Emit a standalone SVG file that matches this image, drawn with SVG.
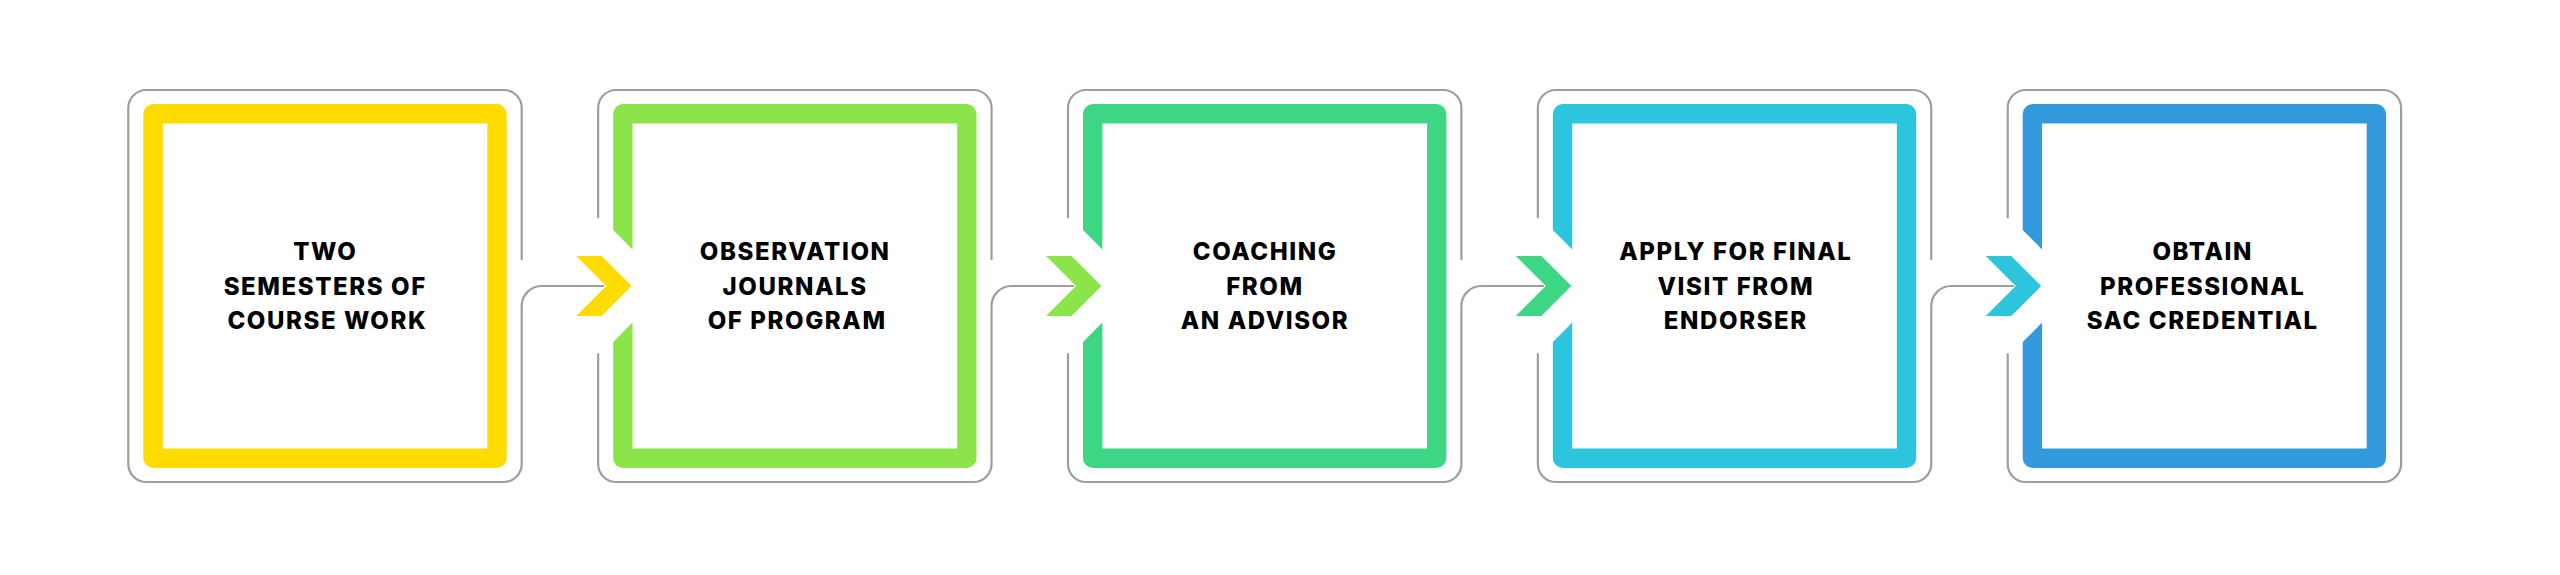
<svg xmlns="http://www.w3.org/2000/svg" width="2560" height="575" viewBox="0 0 2560 575">
<style>
.outline{fill:none;stroke:#9e9e9e;stroke-width:2.2}
.frame{fill-rule:evenodd}
.notch{fill:#ffffff}
.lbl{font-family:Inter,"Noto Sans","Liberation Sans",sans-serif;font-weight:800;font-size:24px;letter-spacing:1.6px;fill:#000;text-anchor:middle}
.conn{fill:none;stroke:#9e9e9e;stroke-width:2.2}
.c1{fill:#FFDC00}.c2{fill:#8BE54A}.c3{fill:#3CD684}.c4{fill:#2DC4DE}.c5{fill:#3399DD}
</style>
<defs>
<path id="framePath" d="M10,104 H353.4 A10,10 0 0 1 363.4,114 V458 A10,10 0 0 1 353.4,468 H10 A10,10 0 0 1 0,458 V114 A10,10 0 0 1 10,104 Z M19.4,123.4 V448.6 H344 V123.4 Z"/>
<polygon id="notchPoly" points="-3,227 21.4,251.4 21.4,320.6 -3,345"/>
<path id="outlineMid" d="M-15,218.3 V108 A18,18 0 0 1 3,90 H360.4 A18,18 0 0 1 378.4,108 V260 M378.4,306 V464 A18,18 0 0 1 360.4,482 H3 A18,18 0 0 1 -15,464 V353.3"/>
</defs>
<rect width="2560" height="575" fill="#ffffff"/>

<g id="node1" transform="translate(143.3,0)">
<path class="outline" d="M378.4,260 V108 A18,18 0 0 0 360.4,90 H3 A18,18 0 0 0 -15,108 V464 A18,18 0 0 0 3,482 H360.4 A18,18 0 0 0 378.4,464 V306"/>
<use href="#framePath" class="frame c1"/>
<text class="lbl" x="182" y="260">TWO</text>
<text class="lbl" x="182" y="294.5">SEMESTERS OF</text>
<text class="lbl" x="184" y="329">COURSE WORK</text>
</g>

<g id="node2" transform="translate(613.15,0)">
<use href="#outlineMid" class="outline"/>
<use href="#framePath" class="frame c2"/>
<use href="#notchPoly" class="notch"/>
<text class="lbl" x="182" y="260">OBSERVATION</text>
<text class="lbl" x="182" y="294.5">JOURNALS</text>
<text class="lbl" x="184" y="329">OF PROGRAM</text>
</g>

<g id="node3" transform="translate(1083,0)">
<use href="#outlineMid" class="outline"/>
<use href="#framePath" class="frame c3"/>
<use href="#notchPoly" class="notch"/>
<text class="lbl" x="182" y="260">COACHING</text>
<text class="lbl" x="182" y="294.5">FROM</text>
<text class="lbl" x="182" y="329">AN ADVISOR</text>
</g>

<g id="node4" transform="translate(1552.85,0)">
<use href="#outlineMid" class="outline"/>
<use href="#framePath" class="frame c4"/>
<use href="#notchPoly" class="notch"/>
<text class="lbl" x="183" y="260">APPLY FOR FINAL</text>
<text class="lbl" x="183" y="294.5">VISIT FROM</text>
<text class="lbl" x="183" y="329">ENDORSER</text>
</g>

<g id="node5" transform="translate(2022.7,0)">
<path class="outline" d="M-15,218.3 V108 A18,18 0 0 1 3,90 H360.4 A18,18 0 0 1 378.4,108 V464 A18,18 0 0 1 360.4,482 H3 A18,18 0 0 1 -15,464 V353.3"/>
<use href="#framePath" class="frame c5"/>
<use href="#notchPoly" class="notch"/>
<text class="lbl" x="180" y="260">OBTAIN</text>
<text class="lbl" x="180" y="294.5">PROFESSIONAL</text>
<text class="lbl" x="180" y="329">SAC CREDENTIAL</text>
</g>

<g id="connectors">
<path class="conn" d="M521.7,306 A20,20 0 0 1 541.7,286 H604"/>
<polygon class="c1" points="576.15,256 601.65,256 631.65,286 601.65,316 576.15,316 606.15,286"/>
<path class="conn" d="M991.55,306 A20,20 0 0 1 1011.55,286 H1074"/>
<polygon class="c2" points="1046,256 1071.5,256 1101.5,286 1071.5,316 1046,316 1076,286"/>
<path class="conn" d="M1461.4,306 A20,20 0 0 1 1481.4,286 H1544"/>
<polygon class="c3" points="1515.85,256 1541.35,256 1571.35,286 1541.35,316 1515.85,316 1545.85,286"/>
<path class="conn" d="M1931.25,306 A20,20 0 0 1 1951.25,286 H2014"/>
<polygon class="c4" points="1985.7,256 2011.2,256 2041.2,286 2011.2,316 1985.7,316 2015.7,286"/>
</g>
</svg>
